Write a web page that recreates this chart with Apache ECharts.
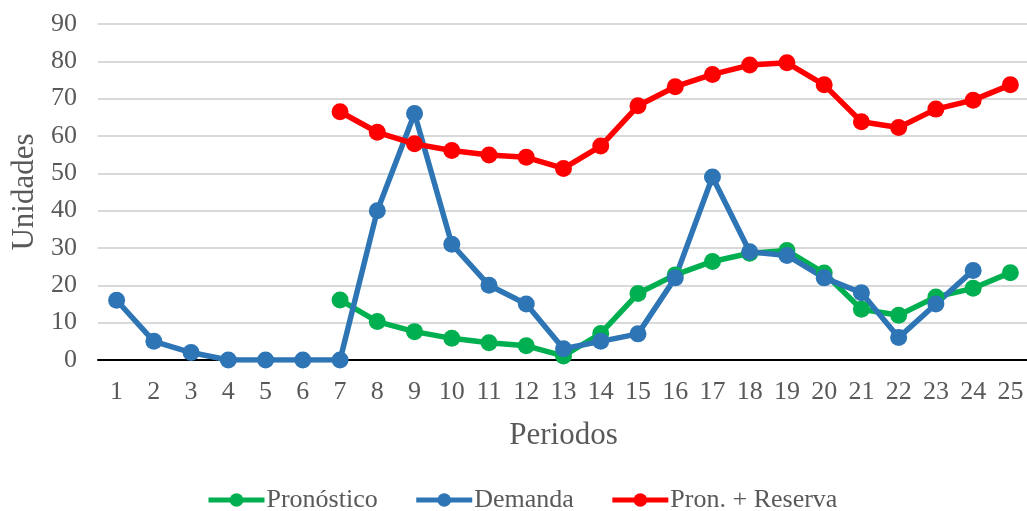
<!DOCTYPE html>
<html>
<head>
<meta charset="utf-8">
<script src="https://cdn.jsdelivr.net/npm/echarts@6/dist/echarts.min.js"></script>
<style>
  html, body { margin: 0; padding: 0; background: #ffffff; }
  #chart { width: 1027px; height: 511px; }
</style>
</head>
<body>
<div id="chart"></div>
<script>
// Periods 1..25
const periodos = ['1','2','3','4','5','6','7','8','9','10','11','12','13','14','15','16','17','18','19','20','21','22','23','24','25'];

// Forecast (starts at period 7)
const pronostico = [null, null, null, null, null, null, 16.1, 10.3, 7.6, 5.8, 4.6, 3.8, 1.1, 7.1, 17.8, 22.8, 26.4, 28.6, 29.3, 23.3, 13.6, 12.0, 16.9, 19.2, 23.4];

// Observed demand (periods 1..24)
const demanda = [16, 5, 2, 0, 0, 0, 0, 40, 66, 31, 20, 15, 3, 5, 7, 22, 49, 29, 28, 22, 18, 6, 15, 24, null];

// Forecast plus safety reserve
const pronReserva = [null, null, null, null, null, null, 66.5, 61.0, 57.9, 56.1, 54.9, 54.3, 51.3, 57.3, 68.1, 73.2, 76.5, 79.0, 79.6, 73.7, 63.8, 62.3, 67.2, 69.6, 73.7];

const yTicks = { min: 0, max: 90, interval: 10 };

const FONT = 'Liberation Serif';
const TEXT = '#595959';

function lineSeries(name, data, color) {
  return {
    name: name,
    type: 'line',
    data: data,
    symbol: 'circle',
    symbolSize: 17,
    showAllSymbol: true,
    connectNulls: false,
    lineStyle: { color: color, width: 5.5 },
    itemStyle: { color: color },
    emphasis: { disabled: true },
    z: 3
  };
}

const chart = echarts.init(document.getElementById('chart'), null, { renderer: 'canvas' });
chart.setOption({
  animation: false,
  backgroundColor: '#ffffff',
  grid: { left: 98, right: -2, top: 24, bottom: 151, containLabel: false, outerBoundsMode: 'none' },
  legend: {
    top: 482,
    left: 201,
    itemWidth: 56,
    itemHeight: 17,
    itemGap: 36,
    lineStyle: { width: 5 },
    textStyle: { fontFamily: FONT, fontSize: 26, color: TEXT, padding: [0, 0, 0, -3] },
    data: ['Pronóstico', 'Demanda', 'Pron. + Reserva']
  },
  xAxis: {
    type: 'category',
    data: periodos,
    boundaryGap: true,
    name: 'Periodos',
    nameLocation: 'middle',
    nameGap: 60,
    nameTextStyle: { fontFamily: FONT, fontSize: 31, color: TEXT },
    axisLine: { onZero: true, lineStyle: { color: '#000000', width: 2 } },
    axisTick: { show: false },
    axisLabel: { fontFamily: FONT, fontSize: 26, color: TEXT, margin: 19, interval: 0 },
    splitLine: { show: false }
  },
  yAxis: {
    type: 'value',
    min: yTicks.min,
    max: yTicks.max,
    interval: yTicks.interval,
    name: 'Unidades',
    nameLocation: 'middle',
    nameGap: 56,
    nameTextStyle: { fontFamily: FONT, fontSize: 31, color: TEXT },
    axisLine: { show: false },
    axisTick: { show: false },
    axisLabel: { fontFamily: FONT, fontSize: 26, color: TEXT, margin: 21 },
    splitLine: { lineStyle: { color: '#d9d9d9', width: 2 } }
  },
  series: [
    lineSeries('Pronóstico', pronostico, '#00b050'),
    lineSeries('Demanda', demanda, '#2e75b6'),
    lineSeries('Pron. + Reserva', pronReserva, '#ff0000')
  ]
});
</script>
</body>
</html>
